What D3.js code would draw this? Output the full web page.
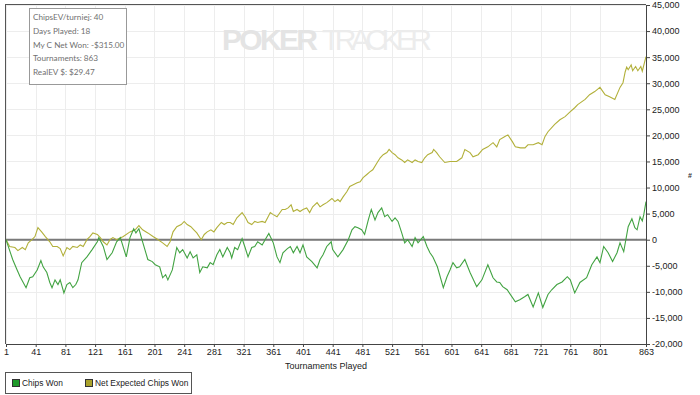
<!DOCTYPE html>
<html lang="en">
    <head>
        <meta charset="utf-8">
        <title>Chips Won</title>
        <script type="text/javascript" src="https://d3js.org/d3.v7.min.js"></script>
        <style>
            body { margin: 0; background: #fff; }
            .axis text { font-family: "Liberation Sans", Arial, sans-serif; font-size: 9px; fill: #222; }
            .axis path, .axis line { stroke: #444; }
        </style>
    </head>
    <body>
        <script type="text/javascript">
            var w = 700;
            var h = 395;
            var plot = { left: 6, right: 646, top: 5, bottom: 344 };

            // tick labels
            var xTicks = [1, 41, 81, 121, 161, 201, 241, 281, 321, 361, 401, 441, 481, 521, 561, 601, 641, 681, 721, 761, 801, 863];
            var yTicks = [-20000, -15000, -10000, -5000, 0, 5000, 10000, 15000, 20000, 25000, 30000, 35000, 40000, 45000];

            var infoLines = ["ChipsEV/turniej: 40", "Days Played: 18", "My C Net Won: -$315.00", "Tournaments: 863", "RealEV $: $29.47"];
            var seriesNames = ["Chips Won", "Net Expected Chips Won"];

            // [tournament, chips]
            var chipsWon = [
                [1,0],[10,-3800],[16,-5800],[20,-7100],[28,-9200],[33,-7300],[37,-7100],[43,-5800],[48,-4000],[51,-5200],
                [56,-6300],[60,-8200],[63,-9200],[67,-7700],[71,-8600],[74,-7700],[79,-10200],[83,-8600],[87,-8200],[91,-9200],
                [95,-8600],[98,-7700],[103,-4400],[110,-3300],[117,-1900],[124,-400],[126,400],[132,-1300],[137,-3800],[144,-2500],
                [150,-400],[155,400],[163,-3300],[168,400],[173,2100],[176,1300],[180,2100],[185,-400],[192,-3800],[198,-4200],
                [202,-4800],[208,-5200],[212,-7300],[216,-6700],[219,-7700],[225,-5800],[231,-1500],[235,-2500],[239,-1900],[245,-3500],
                [249,-2300],[253,-3500],[258,-2900],[262,-6300],[266,-5200],[272,-5400],[276,-4400],[280,-4800],[285,-2900],[289,-1900],
                [293,-3300],[299,-1500],[303,-2500],[305,-3500],[309,-1500],[313,-1900],[319,200],[323,-1500],[327,-3300],[332,-1500],
                [336,-1300],[340,-400],[346,-1000],[350,0],[355,1200],[361,-600],[366,-3300],[370,-4400],[374,-2500],[380,-1700],
                [384,-1300],[388,-2500],[393,-1300],[397,-2500],[401,-1000],[406,-3300],[413,-4200],[420,-5400],[424,-3800],[428,-2900],
                [433,-1300],[439,-400],[441,-1900],[448,-3300],[455,-1900],[462,0],[467,1900],[471,2500],[475,2300],[480,1900],
                [484,1000],[489,3800],[493,5800],[498,3800],[502,5200],[507,6100],[511,4400],[515,4800],[521,3500],[525,4200],
                [529,3500],[534,1300],[538,-600],[542,0],[548,-1300],[552,400],[556,-600],[563,600],[568,-1300],[572,-2500],
                [576,-3300],[582,-5200],[590,-9200],[595,-7100],[599,-5800],[603,-4400],[608,-5400],[612,-5200],[619,-3800],[626,-6300],
                [635,-9000],[642,-7700],[650,-4800],[657,-7300],[662,-8100],[666,-8200],[670,-9000],[676,-9600],[687,-11900],[693,-11500],
                [700,-10900],[704,-10500],[711,-12900],[718,-10200],[724,-13000],[731,-10500],[736,-9600],[743,-8600],[750,-8100],[757,-7100],
                [761,-7700],[767,-10200],[774,-8200],[783,-7300],[790,-4800],[797,-3300],[801,-4400],[806,-1300],[812,-2500],[818,-4200],
                [824,-2500],[828,-600],[833,-2300],[839,2500],[844,4000],[848,2300],[851,1900],[855,4400],[858,3600],[860,4800],[863,7300]
            ];

            var netExpected = [
                [1,0],[6,-1300],[13,-1500],[17,-2100],[23,-1500],[27,-1900],[31,-600],[36,0],[40,600],[44,2300],
                [49,1500],[54,600],[60,-400],[64,-1300],[70,-1300],[74,-1700],[78,-3100],[83,-1500],[87,-1900],[91,-1300],
                [97,-1500],[101,-1000],[105,-1300],[110,0],[114,600],[118,1300],[124,1000],[128,400],[132,-400],[137,-1000],
                [141,0],[145,400],[150,0],[159,600],[168,1500],[175,1900],[180,2700],[185,1900],[192,1300],[199,600],
                [206,0],[212,-600],[218,-1300],[222,-400],[226,1500],[231,2500],[237,2900],[241,3500],[245,2900],[250,2500],
                [254,1900],[258,1300],[264,0],[268,1000],[272,1500],[277,1900],[281,1500],[285,2300],[291,3300],[295,2900],
                [299,3300],[303,3300],[307,2900],[312,4200],[319,5200],[323,4400],[327,3300],[332,2900],[336,3500],[340,3300],
                [346,3500],[350,3300],[357,5200],[361,4800],[366,4400],[373,5800],[377,5800],[381,6100],[385,6700],[388,5400],
                [393,5800],[397,5400],[401,5800],[406,6100],[410,5200],[414,6300],[420,7100],[424,6300],[428,6700],[433,7100],
                [440,7900],[444,7300],[448,7700],[451,7300],[455,8200],[460,9200],[464,10200],[468,10500],[474,10900],[478,11100],
                [482,11900],[487,12500],[491,13000],[495,13400],[501,14800],[505,15700],[509,16300],[514,16700],[517,17300],[521,16700],
                [525,16300],[529,15700],[534,15300],[538,14800],[542,15300],[548,14800],[552,15300],[556,15000],[561,14800],[565,15700],
                [569,16300],[575,16700],[577,17300],[581,16700],[585,15900],[592,14800],[599,15000],[608,15000],[615,15700],[619,17300],
                [626,16700],[630,15900],[637,16300],[643,17300],[650,17800],[657,18600],[662,17800],[666,19200],[673,19800],[677,20100],
                [683,18800],[687,17800],[694,17600],[700,17600],[704,18200],[711,18200],[718,18600],[723,18200],[727,19800],[731,20700],
                [740,22100],[747,23000],[754,23600],[760,24400],[767,25300],[771,25900],[781,26900],[787,27800],[794,28400],[801,29200],
                [808,27800],[814,27400],[821,26900],[828,29200],[832,30100],[835,32200],[837,33100],[839,32600],[843,33500],[845,32400],
                [849,33200],[852,32400],[856,33200],[858,32300],[863,35100]
            ];

            var greenColor = "#42a342";
            var yellowColor = "#b2b03a";

            var xScale = d3.scaleLinear()
                           .domain([1, 863])
                           .range([plot.left, plot.right]);

            var yScale = d3.scaleLinear()
                           .domain([-20000, 45000])
                           .range([plot.bottom, plot.top]);

            var svg = d3.select("body")
                        .append("svg")
                        .attr("width", w)
                        .attr("height", h);

            // grid
            svg.selectAll("line.vgrid")
               .data(xTicks)
               .enter()
               .append("line")
               .attr("class", "vgrid")
               .attr("x1", function(d) { return Math.round(xScale(d)) + 0.5; })
               .attr("x2", function(d) { return Math.round(xScale(d)) + 0.5; })
               .attr("y1", plot.top)
               .attr("y2", plot.bottom)
               .attr("stroke", "#ededed");

            svg.selectAll("line.hgrid")
               .data(yTicks)
               .enter()
               .append("line")
               .attr("class", "hgrid")
               .attr("x1", plot.left)
               .attr("x2", plot.right)
               .attr("y1", function(d) { return Math.round(yScale(d)) + 0.5; })
               .attr("y2", function(d) { return Math.round(yScale(d)) + 0.5; })
               .attr("stroke", "#ededed");

            // watermark
            svg.append("text")
               .attr("x", 222)
               .attr("y", 50)
               .attr("font-family", "Liberation Sans, Arial, sans-serif")
               .attr("font-weight", "bold")
               .attr("font-size", "30px")
               .attr("fill", "#e4e4e4")
               .attr("textLength", 96)
               .text("POKER");
            svg.append("text")
               .attr("x", 322)
               .attr("y", 50)
               .attr("font-family", "Liberation Sans, Arial, sans-serif")
               .attr("font-size", "30px")
               .attr("fill", "#ececec")
               .attr("textLength", 110)
               .text("TRACKER");

            // zero line
            svg.append("line")
               .attr("x1", plot.left)
               .attr("x2", plot.right)
               .attr("y1", yScale(0))
               .attr("y2", yScale(0))
               .attr("stroke", "#7a7a7a")
               .attr("stroke-width", 2);

            var line = d3.line()
                         .x(function(d) { return xScale(d[0]); })
                         .y(function(d) { return yScale(d[1]); });

            svg.append("path")
               .datum(netExpected)
               .attr("d", line)
               .attr("fill", "none")
               .attr("stroke", yellowColor)
               .attr("stroke-width", 1.1);

            svg.append("path")
               .datum(chipsWon)
               .attr("d", line)
               .attr("fill", "none")
               .attr("stroke", greenColor)
               .attr("stroke-width", 1.1);

            // frame
            svg.append("line")
               .attr("x1", 5.5).attr("x2", 5.5)
               .attr("y1", 4).attr("y2", plot.bottom)
               .attr("stroke", "#555");
            svg.append("line")
               .attr("x1", 5).attr("x2", plot.right)
               .attr("y1", 4.5).attr("y2", 4.5)
               .attr("stroke", "#555");

            var fmt = function(d) { return d3.format(",")(d).replace("\u2212", "-"); };

            svg.append("g")
               .attr("class", "axis")
               .attr("transform", "translate(" + plot.right + ", 0)")
               .call(d3.axisRight(yScale).tickValues(yTicks).tickSize(4).tickPadding(2).tickFormat(fmt));

            svg.append("g")
               .attr("class", "axis")
               .attr("transform", "translate(0, " + plot.bottom + ")")
               .call(d3.axisBottom(xScale).tickValues(xTicks).tickSize(3).tickPadding(2));

            svg.selectAll(".axis .domain").attr("stroke", "#444");

            svg.append("text")
               .attr("x", 326)
               .attr("y", 369)
               .style("text-anchor", "middle")
               .attr("font-family", "Liberation Sans, Arial, sans-serif")
               .attr("font-size", "9px")
               .attr("fill", "#222")
               .text("Tournaments Played");

            svg.append("text")
               .attr("x", 690)
               .attr("y", 178)
               .style("text-anchor", "middle")
               .attr("font-family", "Liberation Sans, Arial, sans-serif")
               .attr("font-size", "7px")
               .attr("font-weight", "bold")
               .attr("fill", "#333")
               .text("#");

            // info box
            svg.append("rect")
               .attr("x", 29.5)
               .attr("y", 8.5)
               .attr("width", 97)
               .attr("height", 76)
               .attr("fill", "#fff")
               .attr("stroke", "#999");

            svg.selectAll("text.info")
               .data(infoLines)
               .enter()
               .append("text")
               .attr("class", "info")
               .attr("x", 33)
               .attr("y", function(d, i) { return 20 + i * 13.8; })
               .attr("font-family", "Lato, sans-serif")
               .attr("font-size", "8.2px")
               .attr("fill", "#707070")
               .text(function(d) { return d; });

            // legend
            svg.append("rect")
               .attr("x", 5.5)
               .attr("y", 372.5)
               .attr("width", 186)
               .attr("height", 21)
               .attr("fill", "#fff")
               .attr("stroke", "#555");

            var legendX = [12, 85];
            var legendColors = ["#1f9a2a", "#a9a22a"];
            var lg = svg.selectAll("g.legend")
                        .data(seriesNames)
                        .enter()
                        .append("g")
                        .attr("class", "legend")
                        .attr("transform", function(d, i) { return "translate(" + legendX[i] + ", 383)"; });
            lg.append("rect")
              .attr("x", 0.5)
              .attr("y", -3.5)
              .attr("width", 7)
              .attr("height", 7)
              .attr("fill", function(d, i) { return legendColors[i]; })
              .attr("stroke", "#333");
            lg.append("text")
              .attr("x", 10)
              .attr("y", 3)
              .attr("font-family", "Liberation Sans, Arial, sans-serif")
              .attr("font-size", "8.4px")
              .attr("fill", "#222")
              .text(function(d) { return d; });
        </script>
    </body>
</html>
